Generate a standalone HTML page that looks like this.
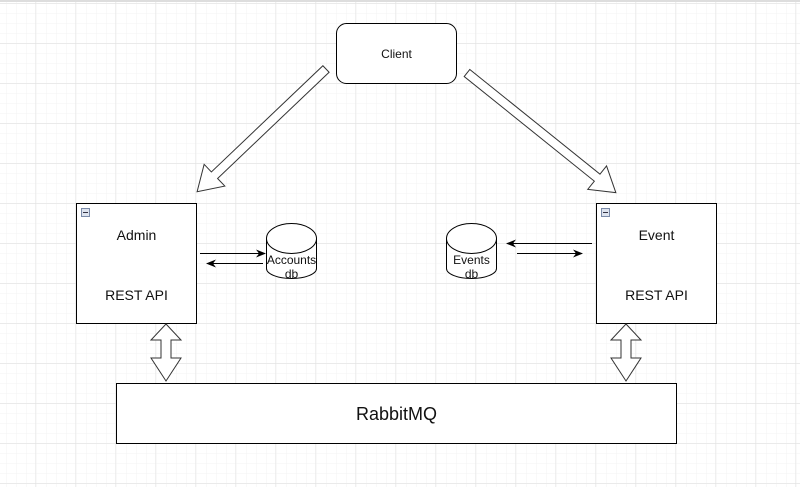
<!DOCTYPE html>
<html><head><style>
html,body{margin:0;padding:0;width:800px;height:487px;overflow:hidden;background:#fff}
svg{display:block}
text{font-family:"Liberation Sans",sans-serif;fill:#111}
</style></head><body>
<svg width="800" height="487" viewBox="0 0 800 487" xmlns="http://www.w3.org/2000/svg">
<defs>
<pattern id="minor" width="10" height="10" patternUnits="userSpaceOnUse" x="6" y="3">
<path d="M0 0H10M0 0V10" stroke="#f3f3f3" stroke-width="1" fill="none"/>
</pattern>
<pattern id="major" width="40" height="40" patternUnits="userSpaceOnUse" x="-4.5" y="3.5">
<path d="M0 0H40M0 0V40" stroke="#e2e2e2" stroke-width="1" fill="none"/>
</pattern>
<marker id="ah" markerWidth="10" markerHeight="8" refX="9" refY="4" orient="auto" markerUnits="userSpaceOnUse">
<path d="M0 0L10 4L0 8L3 4Z" fill="#000"/>
</marker>
</defs>
<rect width="800" height="487" fill="url(#minor)"/>
<rect width="800" height="487" fill="url(#major)"/>
<rect x="0" y="0" width="800" height="2" fill="#ddd"/>

<!-- Client -->
<rect x="336.5" y="23.5" width="120" height="60" rx="10" fill="#fff" stroke="#000"/>
<text x="396.5" y="58" font-size="12" text-anchor="middle">Client</text>

<!-- big diagonal arrows -->
<g transform="translate(326,69) rotate(136.4)">
<polygon points="0,-4.5 154,-4.5 154,-15 178,0 154,15 154,4.5 0,4.5" fill="#fff" stroke="#333"/>
</g>
<g transform="translate(467,73) rotate(38.8)">
<polygon points="0,-4.5 167,-4.5 167,-15 191,0 167,15 167,4.5 0,4.5" fill="#fff" stroke="#333"/>
</g>

<!-- Admin -->
<rect x="76.5" y="203.5" width="120" height="120" fill="#fff" stroke="#000"/>
<rect x="81.5" y="208.5" width="8" height="8" fill="#dde3ee" stroke="#7a8aa8"/>
<line x1="83" y1="212.5" x2="88" y2="212.5" stroke="#334"/>
<text x="136.5" y="240" font-size="14" text-anchor="middle">Admin</text>
<text x="136.5" y="300" font-size="14" text-anchor="middle">REST API</text>

<!-- Event -->
<rect x="596.5" y="203.5" width="120" height="120" fill="#fff" stroke="#000"/>
<rect x="601.5" y="208.5" width="8" height="8" fill="#dde3ee" stroke="#7a8aa8"/>
<line x1="603" y1="212.5" x2="608" y2="212.5" stroke="#334"/>
<text x="656.5" y="240" font-size="14" text-anchor="middle">Event</text>
<text x="656.5" y="300" font-size="14" text-anchor="middle">REST API</text>

<!-- Accounts db -->
<path d="M266.5 238.5 V268.5 A25 10 0 0 0 316.5 268.5 V238.5" fill="#fff" stroke="#000"/>
<ellipse cx="291.5" cy="238.5" rx="25" ry="15" fill="#fff" stroke="#000"/>
<text x="291.5" y="264" font-size="12" text-anchor="middle">Accounts</text>
<text x="291.5" y="278" font-size="12" text-anchor="middle">db</text>

<!-- Events db -->
<path d="M446.5 238.5 V268.5 A25 10 0 0 0 496.5 268.5 V238.5" fill="#fff" stroke="#000"/>
<ellipse cx="471.5" cy="238.5" rx="25" ry="15" fill="#fff" stroke="#000"/>
<text x="471.5" y="264" font-size="12" text-anchor="middle">Events</text>
<text x="471.5" y="278" font-size="12" text-anchor="middle">db</text>

<!-- small arrows -->
<line x1="200" y1="253.5" x2="265" y2="253.5" stroke="#000" marker-end="url(#ah)"/>
<line x1="263" y1="263.5" x2="207" y2="263.5" stroke="#000" marker-end="url(#ah)"/>
<line x1="592" y1="243.5" x2="507" y2="243.5" stroke="#000" marker-end="url(#ah)"/>
<line x1="517" y1="253.5" x2="582" y2="253.5" stroke="#000" marker-end="url(#ah)"/>

<!-- double vertical arrows -->
<polygon points="166,324 181,340 171,340 171,358 181,358 166,381 151,358 161,358 161,340 151,340" fill="#fff" stroke="#333"/>
<polygon points="626,324 641,340 631,340 631,358 641,358 626,381 611,358 621,358 621,340 611,340" fill="#fff" stroke="#333"/>

<!-- RabbitMQ -->
<rect x="116.5" y="383.5" width="560" height="60" fill="#fff" stroke="#000"/>
<text x="396.5" y="420" font-size="18" text-anchor="middle">RabbitMQ</text>
</svg>
</body></html>
